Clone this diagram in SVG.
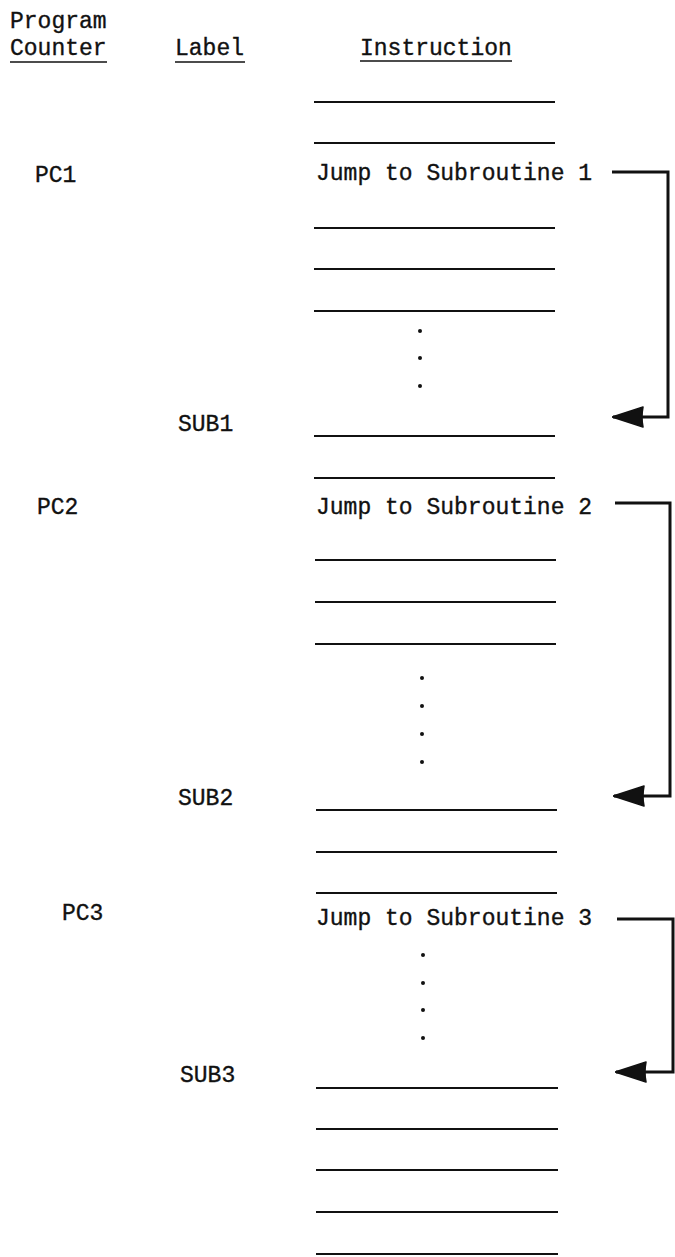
<svg xmlns="http://www.w3.org/2000/svg" width="675" height="1257" viewBox="0 0 675 1257">
<style>
text{font-family:"Liberation Mono","DejaVu Sans Mono",monospace;font-size:23px;fill:#111;stroke:#111;stroke-width:0.35}
.rule{stroke:#111;stroke-width:2;fill:none}
.ul{stroke:#111;stroke-width:1.5;fill:none}
.conn{stroke:#111;stroke-width:3;fill:none;stroke-linejoin:miter}
.dot{fill:#111}
</style>
<defs>
<marker id="ah" viewBox="0 0 32 22" refX="31" refY="11" markerWidth="32" markerHeight="22" markerUnits="userSpaceOnUse" orient="auto">
<path d="M32,11 L1,1 Q3,11 1,21 Z" fill="#111" stroke="#111" stroke-width="1.5" stroke-linejoin="round"/>
</marker>
</defs>
<rect width="675" height="1257" fill="#fff"/>
<g id="header">
<text x="10" y="28">Program</text>
<text x="10" y="55">Counter</text>
<line class="ul" x1="10" y1="62" x2="107" y2="62"/>
<text x="175" y="55">Label</text>
<line class="ul" x1="175" y1="62" x2="245" y2="62"/>
<text x="360" y="55">Instruction</text>
<line class="ul" x1="360" y1="61" x2="512" y2="61"/>
</g>
<g id="block1">
<line class="rule" x1="314" y1="102" x2="555" y2="102"/>
<line class="rule" x1="314" y1="143" x2="555" y2="143"/>
<text id="pc1" x="35" y="182">PC1</text>
<text id="jsr1" x="316" y="180">Jump to Subroutine 1</text>
<line class="rule" x1="314" y1="228" x2="555" y2="228"/>
<line class="rule" x1="314" y1="269" x2="555" y2="269"/>
<line class="rule" x1="314" y1="311" x2="555" y2="311"/>
<circle class="dot" cx="420" cy="331" r="2"/>
<circle class="dot" cx="420" cy="358" r="2"/>
<circle class="dot" cx="420" cy="386" r="2"/>
<text id="sub1" x="178" y="431">SUB1</text>
<line class="rule" x1="314" y1="436" x2="555" y2="436"/>
<line class="rule" x1="314" y1="478" x2="555" y2="478"/>
</g>
<g id="block2">
<text id="pc2" x="37" y="514">PC2</text>
<text id="jsr2" x="316" y="514">Jump to Subroutine 2</text>
<line class="rule" x1="315" y1="560" x2="556" y2="560"/>
<line class="rule" x1="315" y1="602" x2="556" y2="602"/>
<line class="rule" x1="315" y1="644" x2="556" y2="644"/>
<circle class="dot" cx="422" cy="678" r="2"/>
<circle class="dot" cx="422" cy="706" r="2"/>
<circle class="dot" cx="422" cy="734" r="2"/>
<circle class="dot" cx="422" cy="762" r="2"/>
<text id="sub2" x="178" y="805">SUB2</text>
<line class="rule" x1="316" y1="810" x2="557" y2="810"/>
<line class="rule" x1="316" y1="852" x2="557" y2="852"/>
<line class="rule" x1="316" y1="893" x2="557" y2="893"/>
</g>
<g id="block3">
<text id="pc3" x="62" y="920">PC3</text>
<text id="jsr3" x="316" y="925">Jump to Subroutine 3</text>
<circle class="dot" cx="423" cy="955" r="2"/>
<circle class="dot" cx="423" cy="983" r="2"/>
<circle class="dot" cx="423" cy="1010" r="2"/>
<circle class="dot" cx="423" cy="1038" r="2"/>
<text id="sub3" x="180" y="1082">SUB3</text>
<line class="rule" x1="316" y1="1088" x2="558" y2="1088"/>
<line class="rule" x1="316" y1="1129" x2="558" y2="1129"/>
<line class="rule" x1="316" y1="1170" x2="558" y2="1170"/>
<line class="rule" x1="316" y1="1212" x2="558" y2="1212"/>
<line class="rule" x1="316" y1="1254" x2="558" y2="1254"/>
</g>
<g id="connectors">
<path class="conn" d="M612,172 H668 V417 H613" marker-end="url(#ah)"/>
<path class="conn" d="M615,503 H670 V796 H614" marker-end="url(#ah)"/>
<path class="conn" d="M617,919 H673 V1072 H616" marker-end="url(#ah)"/>
</g>
</svg>
